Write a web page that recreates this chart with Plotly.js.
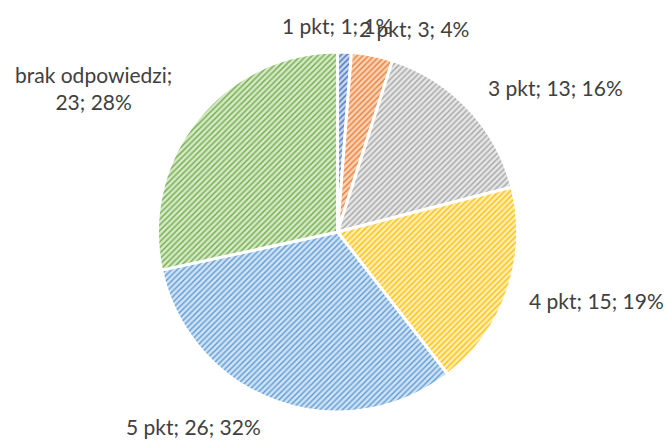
<!DOCTYPE html>
<html><head><meta charset="utf-8">
<script src="https://cdn.plot.ly/plotly-3.0.1.min.js"></script>
<style>html,body{margin:0;padding:0;background:#fff}#c{width:671px;height:440px}</style>
</head><body><div id="c"></div>
<script>
const labels = ["1 pkt", "2 pkt", "3 pkt", "4 pkt", "5 pkt", "brak odpowiedzi"];
const values = [1, 3, 13, 15, 26, 23];
const fgColors = ["#4472C4", "#ED7D31", "#A5A5A5", "#FFC000", "#5B9BD5", "#70AD47"];
const bgColors = ["#C9D6EE", "#F9D3B9", "#E6E6E6", "#FFEDB8", "#D0E2F3", "#D5E8C8"];

const total = values.reduce((a, b) => a + b, 0);
const texts = labels.map((l, i) => {
  const pct = Math.round(values[i] / total * 100) + "%";
  return i === 5 ? l + ";<br>" + values[i] + "; " + pct : l + "; " + values[i] + "; " + pct;
});
// label anchor positions (paper coords)
const labelPos = [[0.502, 0.942], [0.617, 0.936], [0.828, 0.80], [0.889, 0.318], [0.288, 0.03], [0.139, 0.80]];

const annotations = texts.map((t, i) => ({
  text: t, x: labelPos[i][0], y: labelPos[i][1], xref: "paper", yref: "paper",
  showarrow: false, xanchor: "center", yanchor: "middle", align: "center",
  font: {family: "Lato, sans-serif", size: 21, color: "#404040"}
}));

Plotly.newPlot("c", [{
  type: "pie",
  labels: labels,
  values: values,
  sort: false,
  direction: "clockwise",
  rotation: 0,
  textinfo: "none",
  hoverinfo: "label+value+percent",
  domain: {x: [0.2347, 0.7713], y: [0.0636, 0.8818]},
  marker: {
    colors: bgColors,
    line: {color: "#FFFFFF", width: 3},
    pattern: {shape: "/", fgcolor: fgColors, bgcolor: bgColors, size: 4, solidity: 0.35}
  }
}], {
  width: 671, height: 440,
  margin: {l: 0, r: 0, t: 0, b: 0},
  showlegend: false,
  paper_bgcolor: "#FFFFFF",
  annotations: annotations
}, {displayModeBar: false, staticPlot: true});
</script></body></html>
